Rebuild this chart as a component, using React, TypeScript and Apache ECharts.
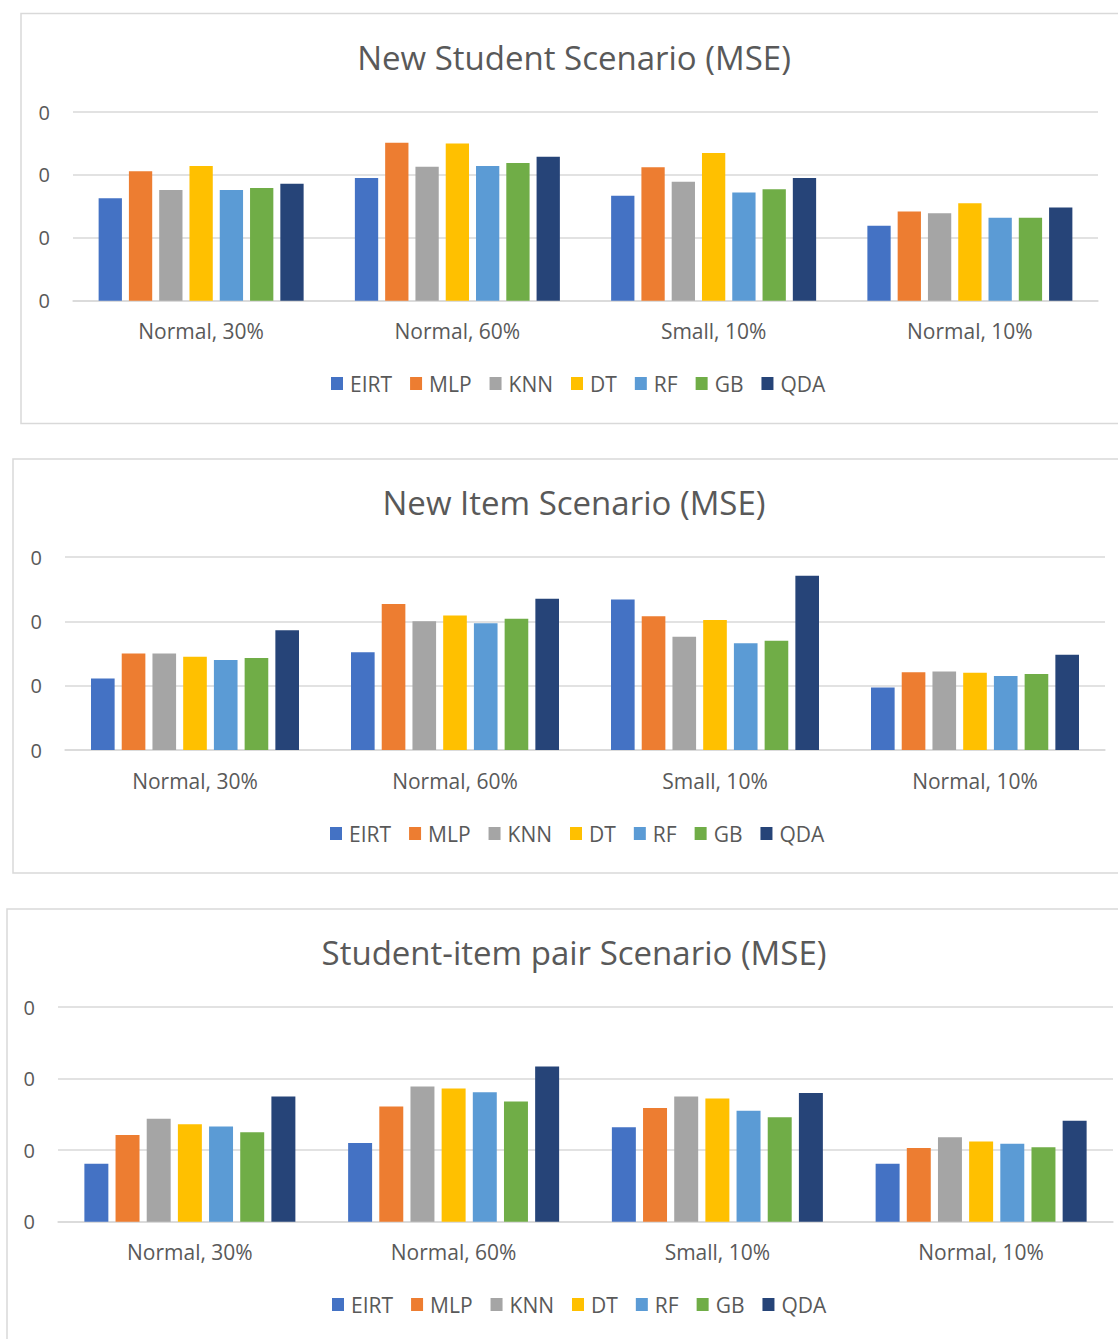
import React, { useEffect, useRef } from "react";
import * as echarts from "echarts";

const categories = ["Normal, 30%", "Normal, 60%", "Small, 10%", "Normal, 10%"];
const models = ["EIRT", "MLP", "KNN", "DT", "RF", "GB", "QDA"];
const colors = ["#4472C4", "#ED7D31", "#A5A5A5", "#FFC000", "#5B9BD5", "#70AD47", "#264478"];
const yTicks = [0, 0.1, 0.2, 0.3];

const titles = [
  "New Student Scenario (MSE)",
  "New Item Scenario (MSE)",
  "Student-item pair Scenario (MSE)",
];

// values per model: [Normal 30%, Normal 60%, Small 10%, Normal 10%]
const newStudent: Record<string, number[]> = {
  EIRT: [0.163, 0.195, 0.167, 0.119],
  MLP: [0.206, 0.251, 0.212, 0.142],
  KNN: [0.176, 0.213, 0.189, 0.139],
  DT: [0.214, 0.25, 0.235, 0.155],
  RF: [0.176, 0.214, 0.172, 0.132],
  GB: [0.179, 0.219, 0.177, 0.132],
  QDA: [0.186, 0.229, 0.195, 0.148],
};

const newItem: Record<string, number[]> = {
  EIRT: [0.111, 0.152, 0.234, 0.097],
  MLP: [0.15, 0.227, 0.208, 0.121],
  KNN: [0.15, 0.2, 0.176, 0.122],
  DT: [0.145, 0.209, 0.202, 0.12],
  RF: [0.14, 0.197, 0.166, 0.115],
  GB: [0.143, 0.204, 0.17, 0.118],
  QDA: [0.186, 0.235, 0.271, 0.148],
};

const pairScenario: Record<string, number[]> = {
  EIRT: [0.081, 0.11, 0.132, 0.081],
  MLP: [0.121, 0.161, 0.159, 0.103],
  KNN: [0.144, 0.189, 0.175, 0.118],
  DT: [0.136, 0.186, 0.172, 0.112],
  RF: [0.133, 0.181, 0.155, 0.109],
  GB: [0.125, 0.168, 0.146, 0.104],
  QDA: [0.175, 0.217, 0.18, 0.141],
};

const datasets = [newStudent, newItem, pairScenario];

const panels = [
  { box: { x: 21, y: 13.5, h: 410 }, titleY: 57, grid: { left: 73, right: 20, top: 112, bottom: 300.7 }, legend: { left: 331, cy: 384 } },
  { box: { x: 13, y: 459, h: 414 }, titleY: 502, grid: { left: 65, right: 13, top: 557, bottom: 750 }, legend: { left: 330, cy: 834 } },
  { box: { x: 7, y: 909, h: 500 }, titleY: 952, grid: { left: 58, right: 5, top: 1007, bottom: 1221.7 }, legend: { left: 332, cy: 1305 } },
];

const W = 1118;
const H = 1339;
const FONT = "'Open Sans', 'Noto Sans', sans-serif";
const TEXT = "#595959";
const GRID = "#d9d9d9";

export default function App() {
  const ref = useRef<HTMLDivElement>(null);
  useEffect(() => {
    if (!ref.current) return;
    const chart = echarts.init(ref.current, undefined, { renderer: "svg" });
    const grids: any[] = [];
    const xAxes: any[] = [];
    const yAxes: any[] = [];
    const series: any[] = [];
    const legends: any[] = [];
    const graphics: any[] = [];

    panels.forEach((p, i) => {
      graphics.push({
        type: "rect",
        shape: { x: p.box.x, y: p.box.y, width: 1300, height: p.box.h },
        style: { fill: "none", stroke: GRID, lineWidth: 1.5 },
        silent: true,
        z: -10,
      });
      graphics.push({
        type: "text",
        x: 574,
        y: p.titleY,
        style: {
          text: titles[i],
          fill: TEXT,
          font: `33px ${FONT}`,
          textAlign: "center",
          textVerticalAlign: "middle",
        },
      });
      grids.push({
        left: p.grid.left,
        width: W - p.grid.right - p.grid.left,
        top: p.grid.top,
        height: p.grid.bottom - p.grid.top,
        containLabel: false,
      });
      xAxes.push({
        type: "category",
        gridIndex: i,
        data: categories,
        axisLine: { show: true, lineStyle: { color: GRID, width: 1.5 } },
        axisTick: { show: false },
        axisLabel: { color: TEXT, fontSize: 21, fontFamily: FONT, margin: 20 },
      });
      yAxes.push({
        type: "value",
        gridIndex: i,
        min: yTicks[0],
        max: yTicks[yTicks.length - 1],
        interval: yTicks[1] - yTicks[0],
        axisLine: { show: false },
        axisTick: { show: false },
        splitLine: { lineStyle: { color: GRID, width: 1.5 } },
        axisLabel: {
          color: TEXT,
          fontSize: 20,
          fontFamily: FONT,
          margin: 23,
          formatter: (v: number) => v.toFixed(0),
        },
      });
      legends.push({
        left: p.legend.left,
        top: p.legend.cy - 11,
        padding: 0,
        orient: "horizontal",
        icon: "rect",
        itemWidth: 12,
        itemHeight: 13,
        itemGap: 18,
        data: models,
        textStyle: { color: TEXT, fontSize: 21, fontFamily: FONT, padding: [0, 0, 0, 2] },
        selectedMode: false,
      });
      models.forEach((m, k) => {
        series.push({
          name: m,
          type: "bar",
          xAxisIndex: i,
          yAxisIndex: i,
          data: datasets[i][m],
          itemStyle: { color: colors[k] },
          barGap: "30%",
          barCategoryGap: "20%",
        });
      });
    });

    chart.setOption({
      animation: false,
      backgroundColor: "#ffffff",
      color: colors,
      grid: grids,
      xAxis: xAxes,
      yAxis: yAxes,
      legend: legends,
      series,
      graphic: graphics,
    });
    return () => chart.dispose();
  }, []);
  return (
    <div
      ref={ref}
      style={{ position: "absolute", left: 0, top: 0, width: W, height: H }}
    />
  );
}
